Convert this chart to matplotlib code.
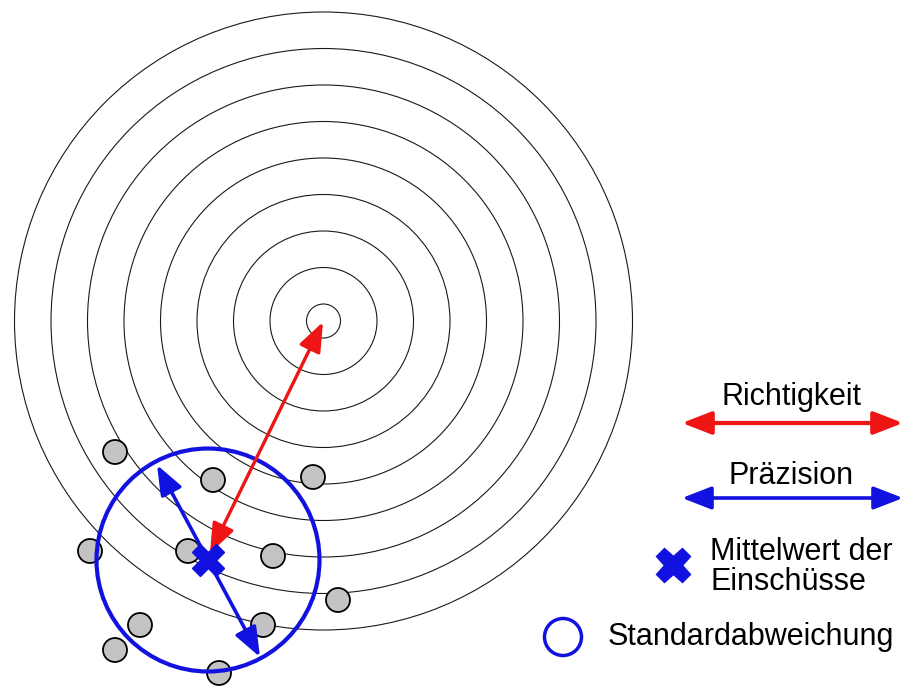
import numpy as np
import matplotlib.pyplot as plt
from matplotlib.patches import Circle, FancyArrowPatch

plt.rcParams['font.family'] = ['Liberation Sans', 'DejaVu Sans']

# target (pixel coordinates of the picture)
target_center = (323.5, 321)
ring_radii = [17, 53.5, 90, 126.5, 163, 199.5, 236, 272.5, 309]

# single shots
shot_x = [115, 213, 313, 90, 188, 273, 338, 140, 263, 115, 219]
shot_y = [452, 480, 477, 551, 551, 556, 600, 625, 625, 650, 673]
shot_r = 12

# mean of shots and standard deviation circle
mean_xy = (208, 560)
std_r = 111.5
prec_start = (157, 465)
prec_end = (260, 657)

# legend
legend_labels = ['Richtigkeit', 'Präzision', 'Mittelwert der\nEinschüsse', 'Standardabweichung']

red = '#ee1515'
blue = '#1212e0'

fig = plt.figure(figsize=(9.05, 6.86), dpi=100)
ax = fig.add_axes([0, 0, 1, 1])
ax.set_xlim(0, 905)
ax.set_ylim(686, 0)
ax.set_aspect('equal')
ax.axis('off')

for r in ring_radii:
    ax.add_patch(Circle(target_center, r, fill=False, ec='#1a1a1a', lw=0.8, zorder=1))

for x, y in zip(shot_x, shot_y):
    ax.add_patch(Circle((x, y), shot_r, fc='#c3c3c3', ec='black', lw=1.3, zorder=2))

ax.add_patch(Circle(mean_xy, std_r, fill=False, ec=blue, lw=3, zorder=3))


def arrow(p0, p1, color, lw=2.2):
    a = FancyArrowPatch(p0, p1, arrowstyle='<|-|>,head_length=0.9,head_width=0.35',
                        mutation_scale=20, color=color, lw=lw, shrinkA=0, shrinkB=0, zorder=4)
    ax.add_patch(a)


arrow(prec_start, prec_end, blue, lw=2.6)
arrow((210, 553), (323, 322), red, lw=2.4)
ax.plot(*mean_xy, marker='X', ms=23, color=blue, mec=blue, zorder=5)

# legend
ax.text(791, 397, legend_labels[0], fontsize=22, ha='center', va='center')
arrow((682, 423), (903, 423), red, lw=3)
ax.text(791, 476, legend_labels[1], fontsize=22, ha='center', va='center')
arrow((682, 498), (903, 498), blue, lw=2.6)

ax.plot(673, 565, marker='X', ms=25, color=blue, mec=blue)
ax.text(710, 567, legend_labels[2], fontsize=22, ha='left', va='center', linespacing=1.0)

ax.add_patch(Circle((563, 637), 18.5, fill=False, ec=blue, lw=2.5))
ax.text(608, 637, legend_labels[3], fontsize=22, ha='left', va='center')

fig.savefig('out.png', dpi=100, facecolor='white')
